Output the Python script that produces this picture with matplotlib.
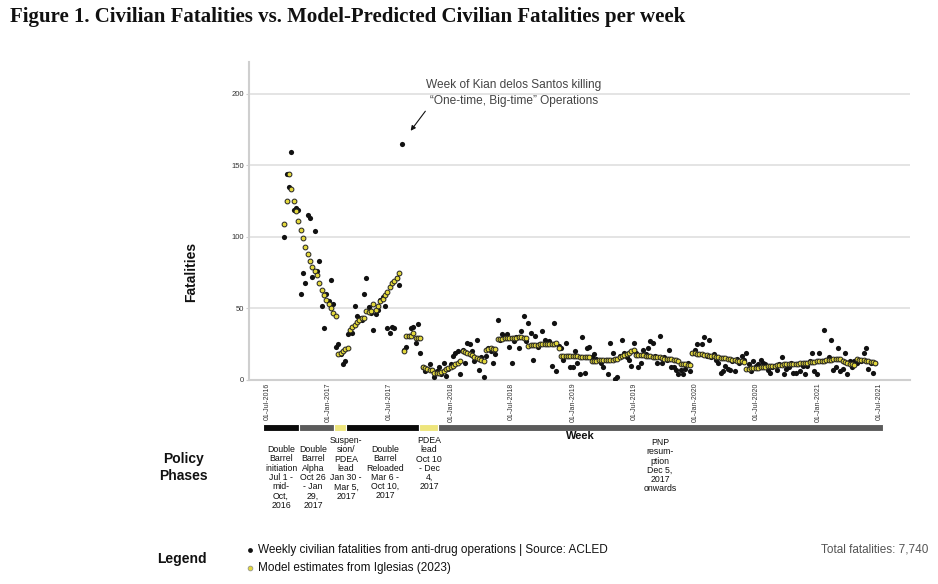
import numpy as np
import pandas as pd
import matplotlib
matplotlib.use("Agg")
import matplotlib.pyplot as plt
import matplotlib.dates as mdates

plt.rcParams['font.family'] = ['Liberation Sans', 'DejaVu Sans']

# weekly data, first week starting 2016-08-22
first_week = '2016-08-22'

acled_weekly = [
    100, 144, 135, 159, 119, 120, 119, 60, 75, 68,
    115, 113, 72, 104, 76, 83, 52, 36, 60, 55,
    70, 53, 23, 25, 18, 11, 13, 32, 34, 33,
    52, 45, 43, 42, 60, 71, 51, 47, 35, 46,
    49, 56, 58, 52, 36, 33, 37, 36, 71, 66,
    165, 21, 23, 31, 36, 37, 26, 39, 19, 9,
    6, 8, 11, 7, 2, 6, 9, 4, 12, 3,
    8, 11, 17, 19, 20, 4, 21, 12, 26, 25,
    20, 13, 28, 7, 16, 2, 17, 22, 20, 12,
    18, 42, 28, 32, 30, 32, 23, 12, 27, 30,
    22, 34, 45, 27, 40, 33, 14, 31, 23, 25,
    34, 28, 26, 27, 10, 40, 6, 24, 22, 14,
    26, 17, 9, 9, 20, 12, 4, 30, 5, 22,
    23, 16, 18, 15, 14, 12, 9, 14, 4, 26,
    19, 1, 2, 17, 28, 19, 16, 14, 10, 26,
    19, 9, 12, 21, 18, 22, 27, 26, 17, 12,
    31, 12, 16, 14, 21, 9, 9, 7, 4, 7,
    4, 8, 12, 6, 19, 21, 25, 18, 25, 30,
    17, 28, 16, 18, 14, 12, 5, 6, 10, 8,
    7, 13, 6, 15, 12, 17, 14, 19, 11, 6,
    13, 10, 11, 14, 12, 11, 7, 5, 9, 10,
    7, 11, 16, 4, 8, 9, 12, 5, 5, 11,
    6, 10, 4, 10, 13, 19, 6, 4, 19, 13,
    35, 14, 16, 28, 7, 9, 22, 6, 8, 19,
    4, 13, 9, 13, 12, 14, 13, 19, 22, 8,
    12, 5, 12,
]

model_weekly = [
    109, 125, 144, 133, 125, 118, 111, 105, 99, 93, 88, 83, 79, 76, 73, 68,
    63, 59, 56, 53, 50, 47, 45,
    18, 19, 20, 21.5, 22.5,
    35, 37, 38.6, 40.5, 41.7, 43, 43.5, 48.5, 47.5, 48, 53, 49, 52, 55,
    56.5, 59, 61.7, 65, 68, 69, 71, 75,
    np.nan,
    20.4, 30.7, 30.7, 30.7, 33, 29.5, 29.5, 29.5,
    8.8, 8.1, 7.8, 7.2, 6.8,
    5.1, 4.9, 4.7,
    5.8, 6.6, 7.4, 8.2, 9, 10, 11, 12, 13,
    20.4, 19.8, 19, 18, 17.3, 16.3, 15.6, 14.8, 14, 13.3,
    21, 21.4, 22, 21.5, 21.3,
    28.4, 28.6, 28.8, 29, 29, 29.2, 29.3, 29.5, 29.6, 30, 29.7, 29.5, 29.5,
    24, 24.2, 24.4, 24.5, 24.6, 24.8, 24.9, 25, 25.1, 25.2, 25.3, 25.4, 25.5, 22,
    16.5, 16.6, 16.7, 16.7, 16.6, 16.6, 16.5, 16.5, 16.4, 16.4, 16.3, 16.3, 16.2,
    13.5, 13.6, 13.6, 13.7, 13.8, 13.9, 14, 14.1, 14.2, 14.3, 14.5,
    15, 15.8, 16.6, 17.4, 18.2, 19, 20, 21,
    17.8, 17.6, 17.4, 17.2, 17, 16.8, 16.6, 16.4, 16.2, 16, 15.8,
    15.2, 15, 14.8, 14.6, 14.4, 14.2, 14, 13.6,
    11.5, 11.2, 11, 10.6, 10.2,
    19, 18.8, 18.5, 18.3, 18, 17.7, 17.4, 17.1, 16.8, 16.5, 16.2, 16, 15.7,
    15.4, 15.1, 14.8, 14.5, 14.2, 13.9, 13.6, 13.3, 13, 12.7,
    7.7, 7.9, 8.1, 8.3, 8.5, 8.7, 8.9, 9.1, 9.3, 9.5, 9.7, 9.9, 10.1, 10.3,
    10.5, 10.7, 10.9, 11.1, 11.3, 11.5,
    11, 11.2, 11.4, 11.6, 11.8, 12, 12.2, 12.4, 12.6, 12.8, 13, 13.2, 13.4,
    13.6, 13.8, 14, 14.2, 14.4, 14.6, 14.8, 15,
    13, 12.5, 12, 11.5, 11, 10.5,
    14.4, 14.3, 14, 13.7, 13.4, 13.1, 12.8, 12.5, 12.2,
]

# policy phases (start dates), end of last phase
phase_starts = ['2016-07-01', '2016-10-16', '2017-01-30', '2017-03-06', '2017-10-10', '2017-12-05']
phase_end = '2021-07-24'
phase_colors = ['#0b0b0b', '#5b5b5b', '#eee57c', '#0b0b0b', '#eee57c', '#5b5b5b']
phase_texts = [
    "Double\nBarrel\ninitiation\nJul 1 -\nmid-\nOct,\n2016",
    "Double\nBarrel\nAlpha\nOct 26\n- Jan\n29,\n2017",
    "Suspen-\nsion/\nPDEA\nlead\nJan 30 -\nMar 5,\n2017",
    "Double\nBarrel\nReloaded\nMar 6 -\nOct 10,\n2017",
    "PDEA\nlead\nOct 10\n- Dec\n4,\n2017",
    "PNP\nresum-\nption\nDec 5,\n2017\nonwards",
]
# text anchor (pixel x center, pixel y top)
phase_text_pos = [(281, 445), (313, 445), (346, 436), (385, 445), (429, 436), (660, 438)]

total_label = "Total fatalities: 7,740"

W, H = 938, 584
weeks = pd.date_range(first_week, periods=len(acled_weekly), freq='7D')
xlim = (pd.Timestamp('2016-05-09'), pd.Timestamp('2021-10-02'))

fig = plt.figure(figsize=(W / 100, H / 100), dpi=100)
fig.patch.set_facecolor('white')

# main scatter
ax = fig.add_axes([249 / W, 1 - 380 / H, 661 / W, 318 / H])
ax.scatter(weeks, acled_weekly, s=14, color='#111111', linewidths=0, zorder=3)
ax.scatter(weeks, model_weekly, s=12, facecolor='#e3d83c', edgecolor='#222222',
           linewidths=0.7, zorder=4)
ax.set_xlim(*xlim)
ax.set_ylim(0, 222)
ax.set_yticks([0, 50, 100, 150, 200])
ax.grid(axis='y', color='#e2e2e2', linewidth=1.3)
ax.set_axisbelow(True)
for s in ['top', 'right']:
    ax.spines[s].set_visible(False)
for s in ['left', 'bottom']:
    ax.spines[s].set_color('#cfcfcf')
    ax.spines[s].set_linewidth(1.5)
ax.xaxis.set_major_locator(mdates.MonthLocator(bymonth=[1, 7], bymonthday=1))
ax.xaxis.set_major_formatter(mdates.DateFormatter('%d-%b-%Y'))
ax.tick_params(axis='x', length=0, pad=2, labelsize=5, labelrotation=90, labelcolor='#333333')
ax.tick_params(axis='y', length=2, color='#cfcfcf', pad=1.5, labelsize=5.5, labelcolor='#333333')

# policy phase bar
bar = fig.add_axes([249 / W, 1 - 430.5 / H, 661 / W, 6.5 / H])
shift = pd.Timedelta(days=-11)
starts = [pd.Timestamp(d) + shift for d in phase_starts]
ends = starts[1:] + [pd.Timestamp(phase_end) + shift]
for st, en, c in zip(starts, ends, phase_colors):
    l = mdates.date2num(st)
    bar.barh(0, mdates.date2num(en) - l, left=l, height=1, color=c,
             edgecolor='white', linewidth=0.8)
bar.set_xlim(mdates.date2num(xlim[0]), mdates.date2num(xlim[1]))
bar.set_ylim(-0.5, 0.5)
bar.axis('off')

# overlay in pixel coords for texts
ov = fig.add_axes([0, 0, 1, 1], zorder=10)
ov.set_xlim(0, W)
ov.set_ylim(H, 0)
ov.axis('off')
ov.patch.set_alpha(0)

ov.text(10, 17, "Figure 1. Civilian Fatalities vs. Model-Predicted Civilian Fatalities per week",
        family=['Liberation Serif', 'DejaVu Serif'], fontweight='bold', fontsize=15,
        ha='left', va='center', color='#111111')

ov.text(191, 272, "Fatalities", rotation=90, fontweight='bold', fontsize=10,
        ha='center', va='center', color='#111111')

ov.text(514, 93, "Week of Kian delos Santos killing\n\u201cOne-time, Big-time\u201d Operations",
        fontsize=8.6, ha='center', va='center', color='#444444', linespacing=1.4)
ov.annotate('', xy=(409, 133), xytext=(427, 109),
            arrowprops=dict(arrowstyle='-|>', color='#111111', lw=0.8, mutation_scale=7))

ov.text(580, 436, "Week", fontweight='bold', fontsize=8, ha='center', va='center', color='#111111')

ov.text(183, 467.5, "Policy\nPhases", fontweight='bold', fontsize=10, ha='center',
        va='center', color='#111111', linespacing=1.2)

for txt, (px, py) in zip(phase_texts, phase_text_pos):
    ov.text(px, py, txt, fontsize=6.3, ha='center', va='top', color='#111111',
            linespacing=1.04, multialignment='center')

# legend
ov.text(157, 559, "Legend", fontweight='bold', fontsize=10, ha='left', va='center', color='#111111')
ov.scatter([250], [550], s=12, color='#111111', linewidths=0)
ov.scatter([250], [568], s=12, facecolor='#e3d83c', edgecolor='#888888', linewidths=0.5)
ov.text(258, 550, "Weekly civilian fatalities from anti-drug operations | Source: ACLED",
        fontsize=8.5, ha='left', va='center', color='#111111')
ov.text(258, 568, "Model estimates from Iglesias (2023)",
        fontsize=8.5, ha='left', va='center', color='#111111')
ov.text(928, 550, total_label, fontsize=8.5, ha='right', va='center', color='#555555')

fig.savefig('out.png', dpi=100)
